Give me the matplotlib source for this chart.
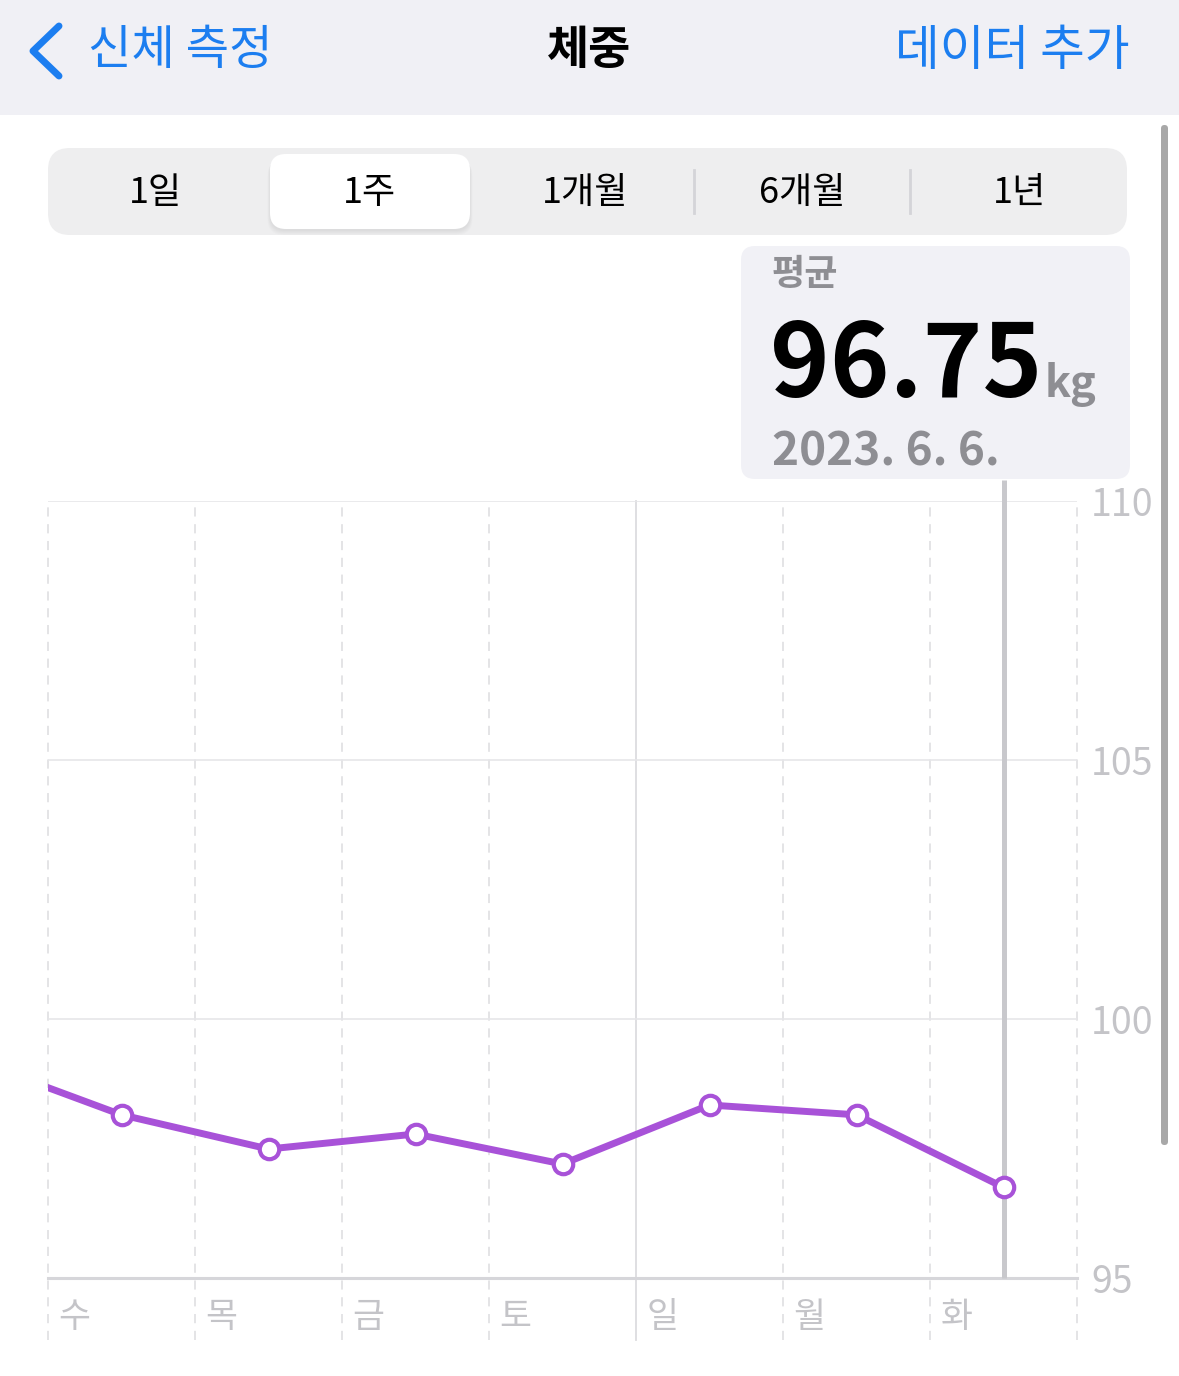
import matplotlib.pyplot as plt
import numpy as np
from matplotlib.patches import FancyBboxPatch, Rectangle

plt.rcParams['font.family'] = ['Noto Sans CJK KR', 'DejaVu Sans']

W, H = 1179, 1376

# data
days = ['수', '목', '금', '토', '일', '월', '화']
# first value is the day before the window (line enters from the left edge)
weights = [99.2, 98.15, 97.49, 97.78, 97.20, 98.34, 98.15, 96.75]
y_ticks = [95, 100, 105, 110]
segments = ['1일', '1주', '1개월', '6개월', '1년']
selected_seg = 1
avg_label = '평균'
avg_value = '96.75'
avg_unit = 'kg'
avg_date = '2023. 6. 6.'

BLUE = '#1c7ef0'
PURPLE = '#a852d8'
GRID = '#dcdcdf'
LABEL = '#c4c4c8'
GRAYTXT = '#8e8e93'

fig = plt.figure(figsize=(W / 100, H / 100), dpi=100)
fig.patch.set_facecolor('white')

# UI layer in pixel coordinates
ui = fig.add_axes([0, 0, 1, 1], zorder=0)
ui.set_xlim(0, W)
ui.set_ylim(H, 0)
ui.axis('off')

# header bar
ui.add_patch(Rectangle((0, 0), W, 115, color='#f0f0f5', lw=0))
ui.plot([59, 33, 59], [26, 51, 76], color=BLUE, lw=5, solid_capstyle='round',
        solid_joinstyle='round')
ui.text(88, 51, '신체 측정', color=BLUE, fontsize=34, ha='left', va='center')
ui.text(589, 51, '체중', color='black', fontsize=33, fontweight='bold',
        ha='center', va='center')
ui.text(1130, 51, '데이터 추가', color=BLUE, fontsize=35, ha='right', va='center')

# scrollbar
ui.add_patch(FancyBboxPatch((1161, 125), 7, 1020,
                            boxstyle='round,pad=0,rounding_size=3.5',
                            color='#a8a8a8', lw=0))

# segmented control
ui.add_patch(FancyBboxPatch((48, 148), 1079, 87,
                            boxstyle='round,pad=0,rounding_size=22',
                            color='#eeeeef', lw=0))
seg_centers = [155, 370, 585, 802, 1019]
for k in range(6):
    ui.add_patch(FancyBboxPatch((270 - k * 0.5, 156 + k * 0.8), 200 + k, 75,
                                boxstyle='round,pad=0,rounding_size=16',
                                color='black', alpha=0.012, lw=0))
ui.add_patch(FancyBboxPatch((270, 154), 200, 75,
                            boxstyle='round,pad=0,rounding_size=16',
                            color='white', lw=0))
for sx in [694, 910]:
    ui.plot([sx, sx], [170, 213], color='#d4d4d8', lw=2)
for cx, lab in zip(seg_centers, segments):
    ui.text(cx, 193, lab, fontsize=26, ha='center', va='center', color='black',
            fontweight='medium')

# average callout
ui.add_patch(FancyBboxPatch((741, 246), 389, 233,
                            boxstyle='round,pad=0,rounding_size=14',
                            color='#f1f1f6', lw=0))
ui.text(772, 274, avg_label, fontsize=26, color=GRAYTXT, fontweight='bold',
        ha='left', va='center')
ui.text(770, 397, avg_value, fontsize=73, color='black', fontweight='bold',
        ha='left', va='baseline')
ui.text(1045, 397, avg_unit, fontsize=31, color=GRAYTXT, fontweight='bold',
        ha='left', va='baseline')
ui.text(772, 465, avg_date, fontsize=33, color=GRAYTXT, fontweight='bold',
        ha='left', va='baseline')

# chart axes
x0, x1, ytop, ybot = 48, 1077, 501, 1278
ax = fig.add_axes([x0 / W, 1 - ybot / H, (x1 - x0) / W, (ybot - ytop) / H],
                  zorder=1)
ax.patch.set_alpha(0)
ax.set_xlim(0, len(days))
ax.set_ylim(y_ticks[0], y_ticks[-1])
for s in ax.spines.values():
    s.set_visible(False)

ext = (1340 - ybot) / (ybot - ytop)
for i in range(len(days) + 1):
    if i < len(days) and days[i] == '일':
        ax.axvline(i, ymin=-ext, ymax=1, color=GRID, lw=1.3, clip_on=False)
    else:
        ax.axvline(i, ymin=-ext, ymax=1, color=GRID, lw=1.1, ls=(0, (6, 5)),
                   clip_on=False)
for yv in y_ticks[1:]:
    ax.axhline(yv, color='#e6e6e9', lw=1.2)
ax.axhline(y_ticks[0], color='#d6d6da', lw=2.2, clip_on=False)

# selection cursor line on the last day
ax.plot([len(days) - 0.5, len(days) - 0.5], [y_ticks[0], 110.4],
        color='#c8c8cc', lw=3.6, clip_on=False, solid_capstyle='butt')

xs = np.arange(-1, len(days)) + 0.5
ax.plot(xs, weights, color=PURPLE, lw=5, solid_joinstyle='round', zorder=3)
ax.plot(xs[1:], weights[1:], ls='none', marker='o', ms=14,
        mfc='white', mec=PURPLE, mew=3, zorder=4)

ax.set_xticks([])
ax.yaxis.tick_right()
ax.set_yticks(y_ticks)
ax.set_yticklabels([str(v) for v in y_ticks])
ax.tick_params(axis='y', length=0, pad=10, labelsize=27, labelcolor=LABEL)

for i, d in enumerate(days):
    ax.text(i + 0.07, y_ticks[0] - 0.76, d, fontsize=25, color=LABEL,
            ha='left', va='center', clip_on=False)

fig.savefig('out.png', dpi=100)
